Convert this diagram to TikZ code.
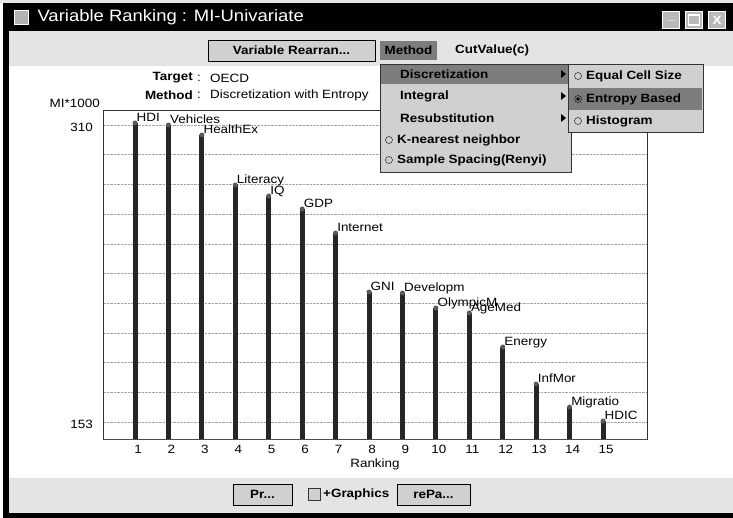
\documentclass[tikz,border=0pt]{standalone}
\usepackage{fontspec}
\setmainfont{Liberation Sans}[FakeStretch=1.12]
\usepackage{tikz}
\usetikzlibrary{positioning}
\definecolor{panelgray}{RGB}{228,228,228}
\definecolor{menugray}{RGB}{208,208,208}
\definecolor{selgray}{RGB}{125,125,125}
\definecolor{gridgray}{RGB}{165,165,165}

\begin{document}
\begin{tikzpicture}[x=1pt, y=-1pt, font=\fontsize{12}{14}\selectfont,
  btn/.style={draw=black, fill=menugray, font=\fontsize{12}{14}\selectfont\bfseries, inner sep=0pt},
  item/.style={anchor=west, inner sep=0pt, font=\fontsize{12}{14}\selectfont\bfseries},
  barlabel/.style={anchor=base west, inner sep=0pt},
  winbtn/.style={draw=white, fill=gray!55, minimum size=17pt, inner sep=0pt, text=white, font=\fontsize{12}{14}\selectfont\bfseries}]
\useasboundingbox (0,0) rectangle (733,518);
\fill[white] (0,0) rectangle (733,518);
% window frame
\fill[panelgray] (0,0) rectangle (733,3);
\fill[black] (3,3) rectangle (733,31);
\fill[panelgray] (9,31) rectangle (733,66);
\fill[panelgray] (9,478) rectangle (733,513);
\fill[black] (3,3) rectangle (9,518);
\fill[black] (3,513) rectangle (733,518);
\node[draw=white, fill=gray!60, minimum size=14pt, inner sep=0pt] (icon) at (21,17) {};
\node[anchor=west, text=white, font=\fontsize{16.5}{18}\selectfont] (title) at (34,17) {Variable Ranking : MI-Univariate};
\node[winbtn] (minbtn) at (671,20) {\_};
\node[winbtn] (maxbtn) at (694,20) {};
\draw[white, line width=1.2pt] (688.5,15) rectangle (699.5,25);
\node[winbtn] (closebtn) at (717,20) {X};
% toolbar
\node[btn, minimum width=167pt, minimum height=21pt] (rearr) at (291.5,50.5) {Variable Rearran...};
\node[btn, draw=none, fill=selgray, minimum width=57pt, minimum height=19pt] (methodbtn) at (408.5,50.5) {Method};
\node[item] (cutbtn) at (455,50.5) {CutValue(c)};
% header
\node[anchor=east, inner sep=0pt, font=\fontsize{12}{14}\selectfont\bfseries] (target) at (193,78) {Target};
\node[anchor=east, inner sep=0pt, font=\fontsize{12}{14}\selectfont\bfseries] (method) at (193,95) {Method};
\node[inner sep=0pt] at (199,78) {:};
\node[inner sep=0pt] at (199,95) {:};
\node[anchor=west, inner sep=0pt] (targetval) at (210,78) {OECD};
\node[anchor=west, inner sep=0pt] (methodval) at (210,95) {Discretization with Entropy};
% plot
\draw[fill=white, draw=gray!40!black] (103,110) rectangle (647,439);
\foreach \k in {0,...,10}
  \draw[gridgray, densely dotted] (104,{125+29.7*\k}) -- (646,{125+29.7*\k});
\draw[gray!60!black, line width=1pt] (103,439) -- (647,439);
\node[anchor=east, inner sep=0pt] (ylab) at (100,103) {MI*1000};
\node[anchor=east, inner sep=0pt] (ymax) at (93,127) {310};
\node[anchor=east, inner sep=0pt] (ymin) at (93,424) {153};
\foreach \i/\t/\lab in {1/123/HDI, 2/125/Vehicles, 3/135/HealthEx, 4/185/Literacy,
  5/196/IQ, 6/209/GDP, 7/233/Internet, 8/292/GNI, 9/293/Developm, 10/308/OlympicM,
  11/313/AgeMed, 12/347/Energy, 13/384/InfMor, 14/407/Migratio, 15/421/HDIC} {
  \pgfmathsetmacro\bx{135+33.43*(\i-1)}
  \draw[black!85, line width=5pt] (\bx,438.5) -- (\bx,\t);
  \fill[gray!70!black] (\bx,\t) circle (2.5);
  \node[barlabel] (lab\i) at (\bx+1.5,\t-1.5) {\lab};
  \node[inner sep=0pt] (tick\i) at (\bx+3,449) {\i};
}
\node[inner sep=0pt] (xlab) at (375,464) {Ranking};
% menus
\draw[fill=menugray, draw=gray!40!black] (380,64) rectangle (571,172);
\fill[selgray] (381,65) rectangle (570,84);
\node[item] (disc) at (400,74) {Discretization};
\node[item] (integ) at (400,96) {Integral};
\node[item] (resub) at (400,118) {Resubstitution};
\node[item] (knn) at (397,140) {K-nearest neighbor};
\node[item] (spacing) at (397,160) {Sample Spacing(Renyi)};
\draw (389,140) circle (3.5);
\draw (389,160) circle (3.5);
\foreach \y in {74,96,118}
  \fill (561,\y-4) -- (566,\y) -- (561,\y+4) -- cycle;
\draw[fill=menugray, draw=gray!40!black] (568,64) rectangle (703,132);
\fill[selgray] (569,88) rectangle (702,110);
\node[item] (equal) at (586,76) {Equal Cell Size};
\node[item] (entropy) at (586,99) {Entropy Based};
\node[item] (hist) at (586,121) {Histogram};
\draw (578,76) circle (3.5);
\draw (578,99) circle (3.5);
\fill (578,99) circle (1.8);
\draw (578,121) circle (3.5);
% bottom bar
\node[btn, minimum width=59pt, minimum height=21pt] (printbtn) at (262.5,494.5) {Pr...};
\draw[fill=menugray, draw=gray!40!black] (308,488) rectangle (320,500);
\node[item] (graphics) at (323,494) {+Graphics};
\node[btn, minimum width=73pt, minimum height=21pt] (repaint) at (433.5,494.5) {rePa...};
\end{tikzpicture}
\end{document}
